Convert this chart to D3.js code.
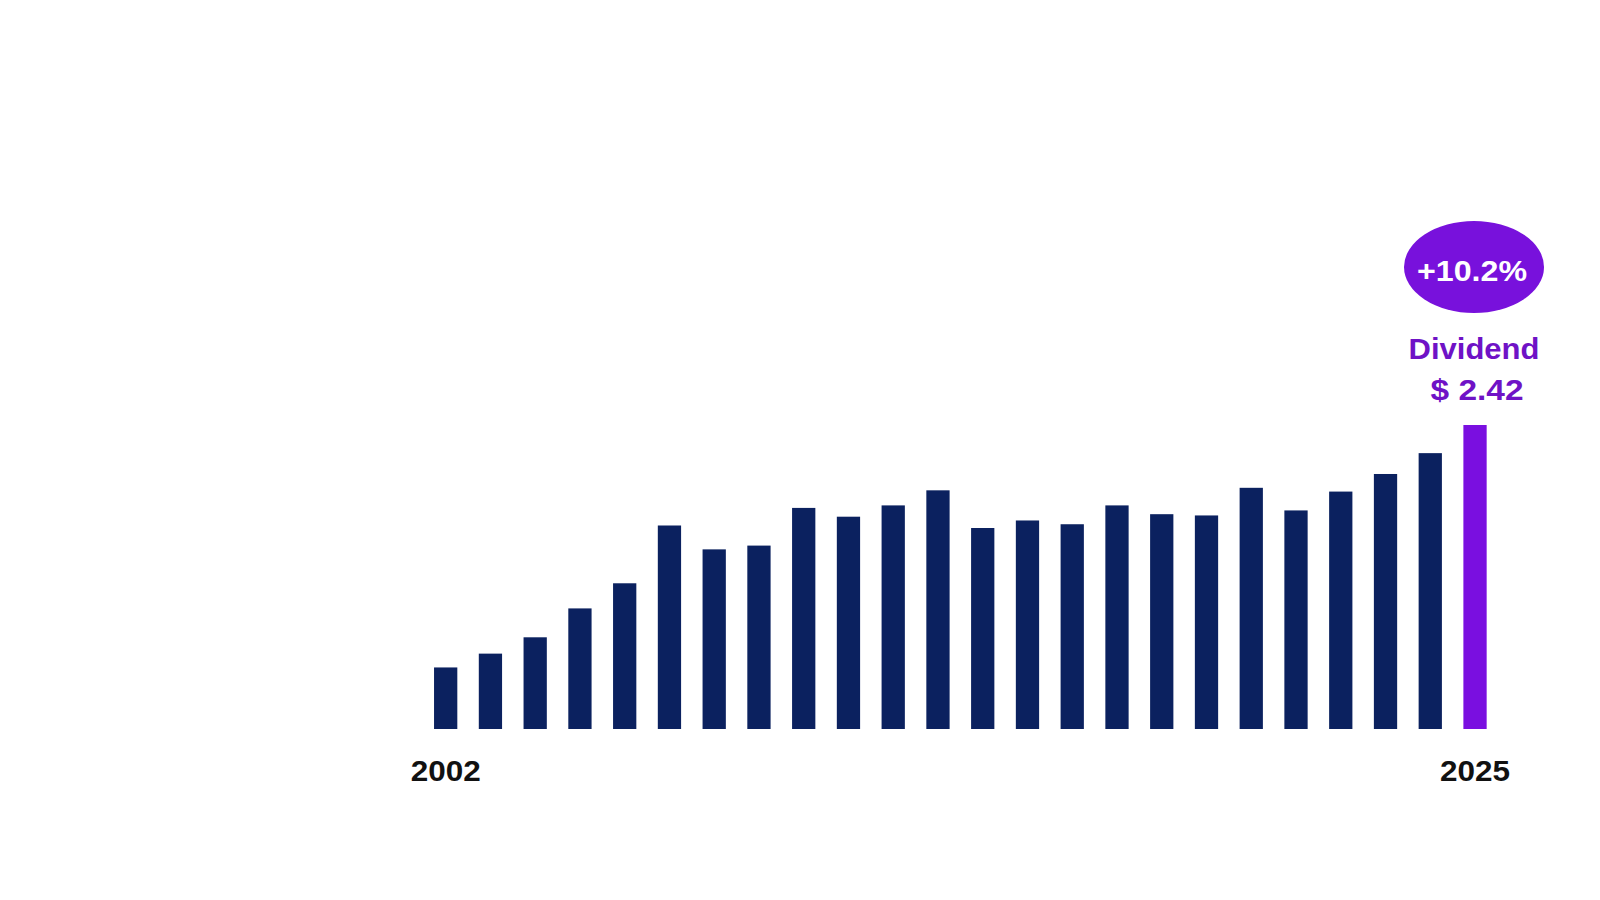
<!DOCTYPE html>
<html>
<head>
<meta charset="utf-8">
<script src="https://cdn.jsdelivr.net/npm/d3@7"></script>
<style>
  html, body { margin: 0; padding: 0; background: #fff; }
  svg { display: block; }
</style>
</head>
<body>
<script>
// 数据
const years = d3.range(2002, 2026);
const dividends = [
  0.49, 0.60, 0.73, 0.96, 1.16, 1.62, 1.43, 1.46, 1.76, 1.69, 1.78, 1.90,
  1.60, 1.66, 1.63, 1.78, 1.71, 1.70, 1.92, 1.74, 1.89, 2.03, 2.196, 2.42
];
const tickYears = [2002, 2025];
const growthLabel = '+10.2%';
const dividendLabel = 'Dividend';
const dividendValueLabel = '$ 2.42';

const width = 1600;
const height = 900;

const data = years.map((year, i) => ({ year, value: dividends[i] }));
const last = data[data.length - 1];

let x = d3.scaleBand()
  .domain(years)
  .range([423.3, 1497.4])
  .paddingInner(0.48)
  .paddingOuter(0.24);

let y = d3.scaleLinear()
  .domain([0, 2.42])
  .range([729, 425]);

let svg = d3.select('body')
  .append('svg')
  .attr('width', width)
  .attr('height', height);

// 柱子
svg.append('g')
  .selectAll('rect')
  .data(data)
  .join('rect')
  .attr('x', d => x(d.year))
  .attr('y', d => y(d.value))
  .attr('width', x.bandwidth())
  .attr('height', d => y(0) - y(d.value))
  .attr('fill', d => d.year === last.year ? '#7a0fe0' : '#0b215f');

// x轴，只显示首尾年份
let xAxis = g => g
  .attr('transform', `translate(0,${y(0)})`)
  .call(d3.axisBottom(x).tickValues(tickYears).tickSize(0).tickPadding(31))
  .call(g => g.select('.domain').remove())
  .call(g => g.selectAll('text')
    .attr('font-family', '"Liberation Sans", Arial, sans-serif')
    .attr('font-size', 29)
    .attr('font-weight', 'bold')
    .attr('fill', '#111')
    .attr('textLength', 70)
    .attr('lengthAdjust', 'spacingAndGlyphs'));

svg.append('g')
  .attr('class', 'x-axis')
  .call(xAxis);

// 最后一根柱子的注释
const noteX = x(last.year) + x.bandwidth() / 2;
const barTop = y(last.value);

const note = svg.append('g')
  .attr('font-family', '"Liberation Sans", Arial, sans-serif')
  .attr('font-weight', 'bold')
  .attr('text-anchor', 'middle');

note.append('ellipse')
  .attr('cx', noteX - 1)
  .attr('cy', barTop - 158)
  .attr('rx', 70)
  .attr('ry', 46)
  .attr('fill', '#7811dc');

note.append('text')
  .attr('x', noteX - 3)
  .attr('y', barTop - 144)
  .attr('font-size', 30)
  .attr('fill', '#fff')
  .attr('textLength', 110)
  .attr('lengthAdjust', 'spacingAndGlyphs')
  .text(growthLabel);

note.append('text')
  .attr('x', noteX - 1)
  .attr('y', barTop - 66)
  .attr('font-size', 29)
  .attr('fill', '#6f12c6')
  .attr('textLength', 131)
  .attr('lengthAdjust', 'spacingAndGlyphs')
  .text(dividendLabel);

note.append('text')
  .attr('x', noteX + 2)
  .attr('y', barTop - 25)
  .attr('font-size', 29)
  .attr('fill', '#6f12c6')
  .attr('textLength', 93)
  .attr('lengthAdjust', 'spacingAndGlyphs')
  .text(dividendValueLabel);
</script>
</body>
</html>
